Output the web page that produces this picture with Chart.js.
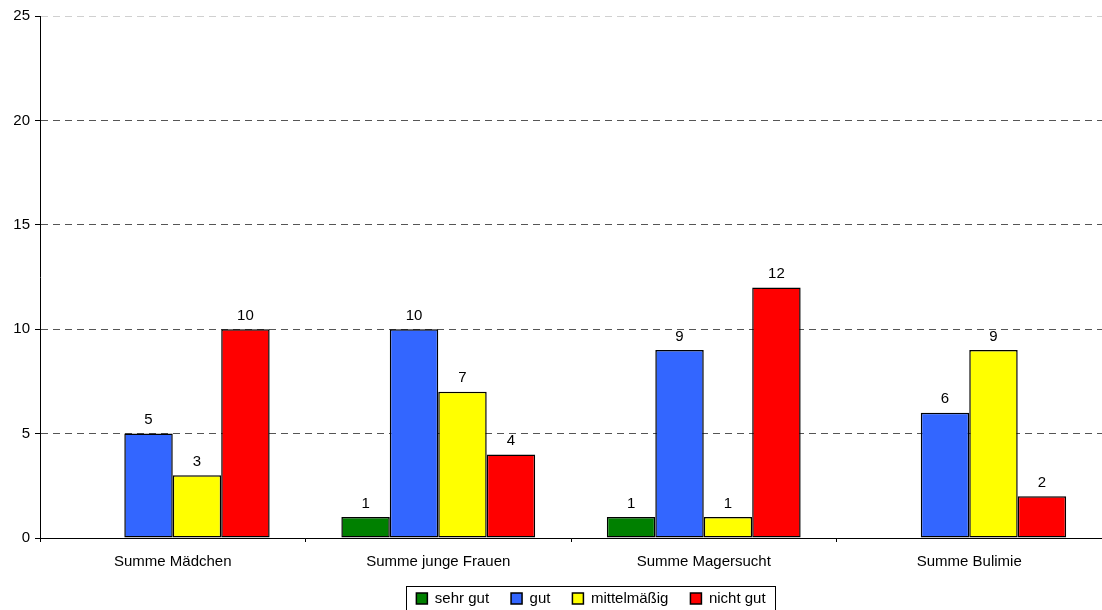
<!DOCTYPE html>
<html lang="de">
<head>
<meta charset="UTF-8">
<title>Summen nach Gruppe</title>
<script src="https://cdn.jsdelivr.net/npm/chart.js@4/dist/chart.umd.min.js"></script>
<style>
  html, body { margin: 0; padding: 0; background: #fff; }
  #wrap { width: 1102px; height: 610px; }
</style>
</head>
<body>
<div id="wrap"><canvas id="chart"></canvas></div>
<script>
const categories = ['Summe Mädchen', 'Summe junge Frauen', 'Summe Magersucht', 'Summe Bulimie'];
const sehrGut = [null, 1, 1, null];
const gut = [5, 10, 9, 6];
const mittelmaessig = [3, 7, 1, 9];
const nichtGut = [10, 4, 12, 2];
const yTicks = [0, 5, 10, 15, 20, 25];

const FONT = 'Liberation Sans, Arial, sans-serif';

// value above each bar
const barLabels = {
    id: 'barLabels',
    afterDatasetsDraw(chart) {
        const ctx = chart.ctx;
        ctx.save();
        ctx.font = '15px ' + FONT;
        ctx.fillStyle = '#000';
        ctx.textAlign = 'center';
        ctx.textBaseline = 'bottom';
        chart.data.datasets.forEach((ds, i) => {
            chart.getDatasetMeta(i).data.forEach((bar, j) => {
                const v = ds.data[j];
                if (v === null || v === undefined) return;
                ctx.fillText(String(v), bar.x, bar.y - 6);
            });
        });
        ctx.restore();
    }
};

// legend sits a bit right of centre and slightly raised; frame drawn around its entries
const legendFrame = {
    id: 'legendFrame',
    afterLayout(chart) {
        const lg = chart.legend;
        lg.left += 40;
        lg.right += 40;
        lg.top -= 4;
        lg.bottom -= 4;
    },
    afterDraw(chart) {
        const boxes = chart.legend.legendHitBoxes;
        if (!boxes || !boxes.length) return;
        const first = boxes[0], last = boxes[boxes.length - 1];
        const ctx = chart.ctx;
        ctx.save();
        ctx.strokeStyle = '#000';
        ctx.lineWidth = 1;
        const x = Math.round(first.left - 10) + 0.5;
        const y = Math.round(first.top - 5) + 0.5;
        const w = Math.round(last.left + last.width - first.left + 20);
        const h = Math.round(first.height + 10);
        ctx.strokeRect(x, y, w, h);
        ctx.restore();
    }
};

const barStyle = (color) => ({
    backgroundColor: color,
    borderColor: '#000',
    borderWidth: 1.5,
    borderSkipped: false
});

new Chart(document.getElementById('chart'), {
    type: 'bar',
    data: {
        labels: categories,
        datasets: [
            { label: 'sehr gut', data: sehrGut, ...barStyle('#008000') },
            { label: 'gut', data: gut, ...barStyle('#3366FF') },
            { label: 'mittelmäßig', data: mittelmaessig, ...barStyle('#FFFF00') },
            { label: 'nicht gut', data: nichtGut, ...barStyle('#FF0000') }
        ]
    },
    options: {
        responsive: true,
        maintainAspectRatio: false,
        animation: false,
        layout: { padding: { top: 16, right: 0, left: 0, bottom: -10 } },
        datasets: { bar: { barPercentage: 1.0, categoryPercentage: 0.73 } },
        plugins: {
            legend: {
                position: 'bottom',
                labels: {
                    font: { family: FONT, size: 15 },
                    color: '#000',
                    boxWidth: 11,
                    boxHeight: 11,
                    padding: 22
                }
            },
            tooltip: { enabled: false }
        },
        scales: {
            x: {
                afterFit(axis) { axis.height = 35; },
                grid: {
                    offset: true,
                    drawOnChartArea: false,
                    drawTicks: true,
                    tickLength: 4,
                    color: '#000'
                },
                border: { color: '#000', width: 1 },
                ticks: {
                    font: { family: FONT, size: 15 },
                    color: '#000',
                    padding: 11
                }
            },
            y: {
                min: 0,
                max: 25,
                afterBuildTicks(axis) { axis.ticks = yTicks.map(v => ({ value: v })); },
                afterFit(axis) { axis.width = 40; },
                grid: {
                    color: (c) => (c.tick && c.tick.value === 25 ? '#d0d0d0' : '#555'),
                    tickLength: 5,
                    tickColor: '#000',
                    tickBorderDash: []
                },
                border: { color: '#000', width: 1, dash: [7, 5] },
                ticks: {
                    font: { family: FONT, size: 15 },
                    color: '#000',
                    padding: 5
                }
            }
        }
    },
    plugins: [barLabels, legendFrame]
});
</script>
</body>
</html>
